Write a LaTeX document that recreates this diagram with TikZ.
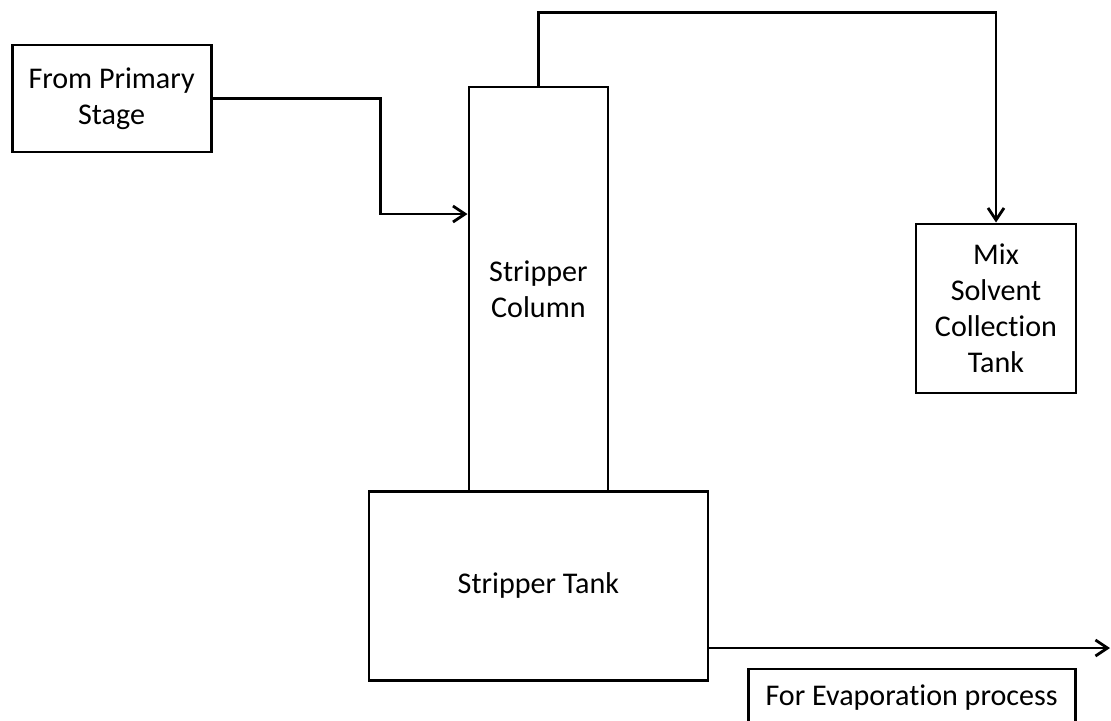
\documentclass[tikz,border=0pt]{standalone}
\usepackage{fontspec}
\setmainfont{Carlito}[Ligatures=NoCommon]
\usetikzlibrary{positioning,arrows.meta,calc}

\begin{document}
\begin{tikzpicture}[
  font=\fontsize{21.4}{25.6}\selectfont,
  unit/.style={draw=black, line width=2pt, fill=white, inner sep=0pt, align=center},
  ar/.style={-{Straight Barb[length=3mm,width=4mm,line width=2pt]}, draw=black, line width=2pt},
]
\clip (0,0) rectangle (27.775,-18);

\node[unit, minimum width=4.975cm, minimum height=2.675cm] (from) at (2.79,-2.46) {From Primary\\Stage};
\node[unit, minimum width=3.475cm, minimum height=10.1cm] (col) at (13.46,-7.225) {Stripper\\Column};
\node[unit, minimum width=8.475cm, minimum height=4.725cm] (tank) at (13.46,-14.64) {Stripper Tank};
\node[unit, minimum width=4.0cm, minimum height=4.225cm] (mix) at (24.9,-7.71) {Mix\\Solvent\\Collection\\Tank};
\node[unit, minimum width=8.175cm, minimum height=1.45cm] (evap) at (22.79,-17.45) {For Evaporation process};

\coordinate (out) at (27.75,-16.2);

\draw[ar] (from.east) -- ++(4.2,0) |- (col.west |- 0,-5.35);
\draw[ar] (col.north) -- ++(0,1.825) -| (mix.north);
\draw[ar] (tank.east |- out) -- (out);
\end{tikzpicture}
\end{document}
